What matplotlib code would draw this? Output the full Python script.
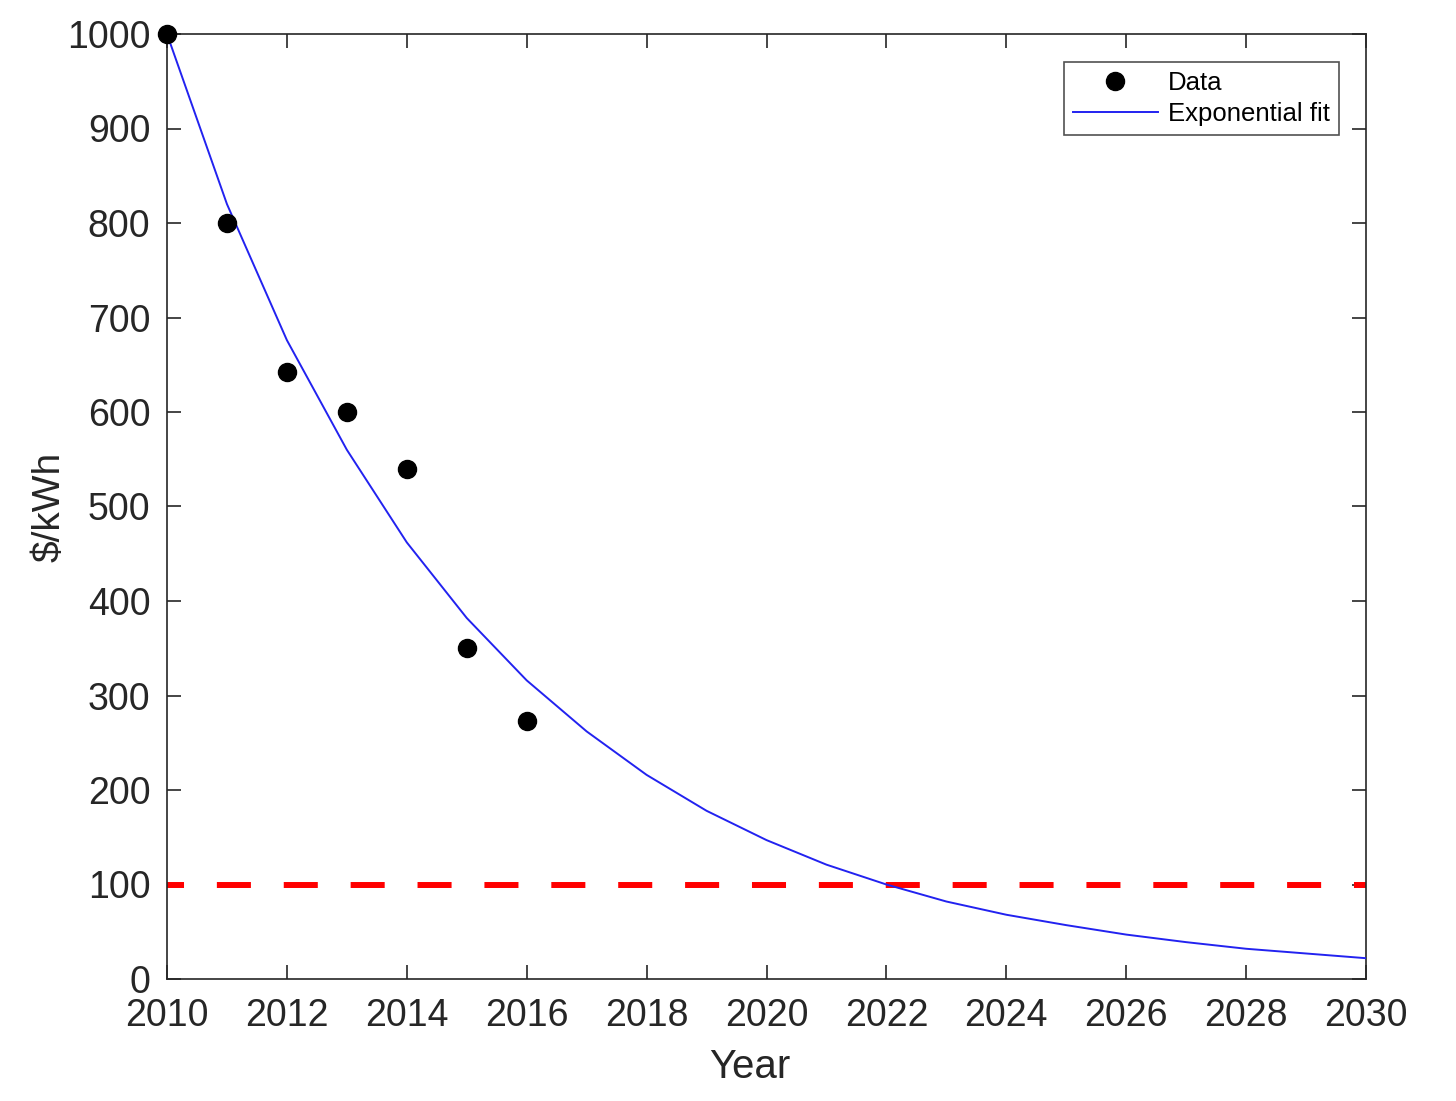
import matplotlib
matplotlib.use("Agg")
import matplotlib.pyplot as plt

plt.rcParams['font.family'] = ['Liberation Sans', 'DejaVu Sans']

data_years = [2010, 2011, 2012, 2013, 2014, 2015, 2016]
data_cost = [1000, 800, 642, 600, 540, 350, 273]

fit_years = list(range(2010, 2031))
fit_cost = [1000, 820, 676, 560, 462, 382, 316, 262, 216, 178, 147,
            121, 100, 82, 68, 57, 47, 39, 32, 27, 22]

target = 100
xticks = list(range(2010, 2031, 2))
yticks = list(range(0, 1001, 100))

fig = plt.figure(figsize=(14.56, 11.01), dpi=100)
ax = fig.add_axes([167/1456, 1 - 979/1101, (1366-167)/1456, (979-34)/1101])

ax.plot(data_years, data_cost, 'o', color='black', markersize=13, label='Data', zorder=4, clip_on=False)
ax.plot(fit_years, fit_cost, '-', color='#2222f0', linewidth=1.4, label='Exponential fit', zorder=3)
ax.axhline(target, color='#ff0000', linewidth=4.3, linestyle=(2.85, (5.7, 5.5)), zorder=2)

ax.set_xlim(2010, 2030)
ax.set_ylim(0, 1000)
ax.set_xticks(xticks)
ax.set_yticks(yticks)
ax.tick_params(direction='in', length=10, width=1.2, color='#262626', labelcolor='#262626',
               labelsize=27, top=True, right=True)
ax.tick_params(axis='x', pad=14)
ax.tick_params(axis='y', pad=12)
for s in ax.spines.values():
    s.set_color('#262626')
    s.set_linewidth(1.2)

ax.set_xlabel('Year', fontsize=29, color='#262626')
ax.set_ylabel('$/kWh', fontsize=28, color='#262626')
ax.xaxis.set_label_coords((750-167)/(1366-167), -(1048-979)/(979-34))
ax.yaxis.set_label_coords(-(167-68)/(1366-167), 0.5)

leg = ax.legend(loc='upper right', bbox_to_anchor=((1339-167)/(1366-167), (979-62)/(979-34)),
                fontsize=18.5, frameon=True, fancybox=False, edgecolor='#262626',
                borderpad=0.35, handlelength=3.3, handletextpad=0.4, labelspacing=0.28,
                borderaxespad=0)
leg.get_frame().set_linewidth(1.2)
leg.legend_handles[0].set_markersize(13)

fig.savefig('out.png', dpi=100)
